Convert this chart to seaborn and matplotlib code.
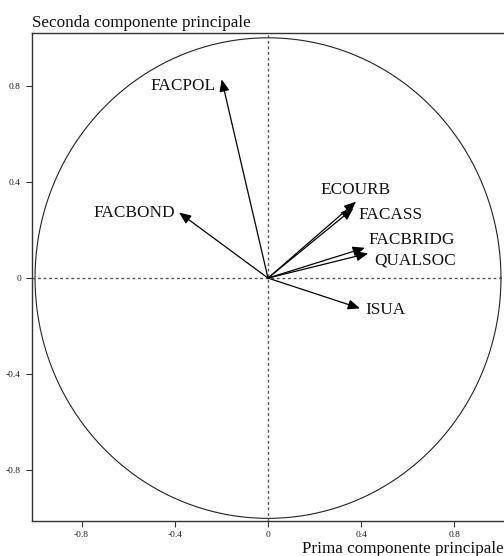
import numpy as np
import pandas as pd
import matplotlib
matplotlib.use("Agg")
import matplotlib.pyplot as plt
import seaborn as sns

# Correlations of the variables with the first two principal components
variables = ["FACPOL", "FACBOND", "ECOURB", "FACASS", "FACBRIDG", "QUALSOC", "ISUA"]
pc1 = [-0.199, -0.382, 0.378, 0.366, 0.416, 0.430, 0.395]
pc2 = [0.827, 0.273, 0.318, 0.290, 0.126, 0.103, -0.126]

tick_values = [-0.8, -0.4, 0, 0.4, 0.8]
tick_labels = ["-0.8", "-0.4", "0", "0.4", "0.8"]

sns.set_theme(style="ticks")
plt.rcParams["font.family"] = ["Liberation Serif", "DejaVu Serif"]

fig = plt.figure(figsize=(5.04, 5.56), dpi=100)
ax = fig.add_axes([32 / 504, 1 - 521 / 556, 1 - 32 / 504, (521 - 33) / 556])

# correlation circle
theta = np.linspace(0, 2 * np.pi, 721)
circle = pd.DataFrame({"x": np.cos(theta), "y": np.sin(theta)})
sns.lineplot(data=circle, x="x", y="y", sort=False, estimator=None,
             color="#222222", linewidth=0.8, ax=ax)

# reference axes through the origin
ax.axhline(0, color="#555555", linestyle=(0, (2, 2)), linewidth=1.0)
ax.axvline(0, color="#555555", linestyle=(0, (2, 2)), linewidth=1.0)

df = pd.DataFrame({"var": variables, "pc1": pc1, "pc2": pc2})

# label placement per variable: (dx px, dy px, ha)
placement = {
    "FACPOL": (-6, -7, "right"),
    "FACBOND": (-4, -1, "right"),
    "ECOURB": (-36, 12, "left"),
    "FACASS": (5, -7, "left"),
    "FACBRIDG": (4, 8, "left"),
    "QUALSOC": (6, -7, "left"),
    "ISUA": (5, -2, "left"),
}

for _, r in df.iterrows():
    ax.annotate("", xy=(r.pc1, r.pc2), xytext=(0, 0),
                arrowprops=dict(arrowstyle="-|>,head_length=0.6,head_width=0.25",
                                color="black", lw=0.9, shrinkA=0, shrinkB=0))
    dx, dy, ha = placement[r["var"]]
    ax.annotate(r["var"], xy=(r.pc1, r.pc2), xytext=(dx, dy),
                textcoords="offset pixels", ha=ha, va="center",
                fontsize=12.4, color="#111111")

ax.set_xlim(-1.013, 1.013)
ax.set_ylim(-1.011, 1.02)
ax.set_xticks(tick_values)
ax.set_xticklabels(tick_labels)
ax.set_yticks(tick_values)
ax.set_yticklabels(tick_labels)
ax.tick_params(axis="both", labelsize=6.8, length=4, width=0.8,
               color="#333333", labelcolor="#222222", direction="out")
ax.tick_params(axis="x", pad=3)
ax.tick_params(axis="y", pad=4)
ax.set_xlabel("")
ax.set_ylabel("")

for side in ["left", "bottom", "top"]:
    ax.spines[side].set_visible(True)
    ax.spines[side].set_color("#333333")
    ax.spines[side].set_linewidth(1.0)
ax.spines["right"].set_visible(False)

fig.text(32 / 504, 1 - 27 / 556, "Seconda componente principale",
         ha="left", va="baseline", fontsize=12.3, color="#111111")
fig.text(1.0, 1 - 553 / 556, "Prima componente principale",
         ha="right", va="baseline", fontsize=12.3, color="#111111")

fig.savefig("out.png", dpi=100)
